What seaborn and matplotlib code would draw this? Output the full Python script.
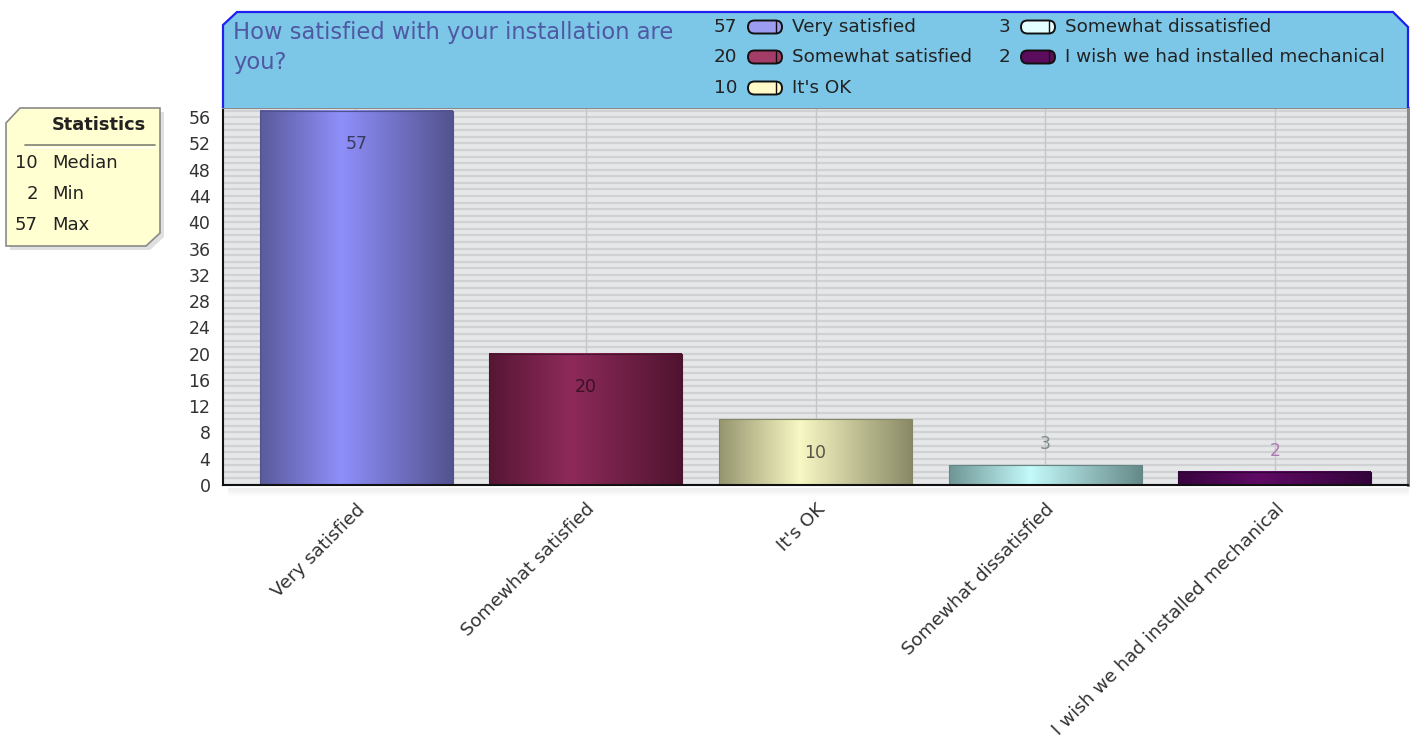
import numpy as np
import pandas as pd
import seaborn as sns
import matplotlib
matplotlib.use("Agg")
import matplotlib.pyplot as plt
from matplotlib.patches import Polygon, FancyBboxPatch
from matplotlib.colors import LinearSegmentedColormap, to_rgb

# ---------------- data ----------------
categories = ["Very satisfied", "Somewhat satisfied", "It's OK",
              "Somewhat dissatisfied", "I wish we had installed mechanical"]
values = [57, 20, 10, 3, 2]
title_text = "How satisfied with your installation are\nyou?"
y_ticks = list(range(0, 57, 4))
stat_names = ["Median", "Min", "Max"]

# ---------------- styles ----------------
edge_colors = ["#5a5a9c", "#561634", "#95956f", "#6f9595", "#380440"]
mid_colors = ["#8f8ffa", "#8e2a5a", "#f8f8c4", "#c4fafa", "#600a64"]
swatch_colors = ["#9c9cf2", "#a43c68", "#fffac8", "#e4ffff", "#5c0c5c"]
value_label_colors = ["#3a3a62", "#3a1224", "#55554a", "#7e8c8c", "#b07ab0"]

sns.set_theme(style="white")
plt.rcParams['font.family'] = ['DejaVu Sans']

W, H = 1410, 756
fig = plt.figure(figsize=(W / 100, H / 100), dpi=100)
fig.patch.set_facecolor("white")


def fx(x):
    return x / W


def fy(y):
    return 1 - y / H


ax = fig.add_axes([fx(223), fy(485), fx(1408) - fx(223), fy(108) - fy(485)])
df = pd.DataFrame({"category": categories, "value": values})
sns.barplot(data=df, x="category", y="value", hue="category",
            palette=mid_colors, legend=False, ax=ax, width=0.84,
            saturation=1, dodge=False)

ax.set_facecolor("#e5e7e9")
# horizontal stripes
for k in range(0, 58):
    ax.axhline(k, color="#d0d1d3", lw=1.6, zorder=0.3)
# vertical grid at categories
for i in range(len(categories)):
    ax.axvline(i, color="#c6c6c6", lw=1.0, zorder=0.4)

# gradient bars
grad = np.linspace(0, 1, 256)[None, :]
for patch, e, m in zip(ax.patches, edge_colors, mid_colors):
    x0 = patch.get_x()
    w = patch.get_width()
    h = patch.get_height()
    er = np.array(to_rgb(e))
    cmap = LinearSegmentedColormap.from_list(
        "g", [(0, er), (0.42, to_rgb(m)), (1, er * 0.92)])
    ax.imshow(grad, cmap=cmap, extent=[x0, x0 + w, 0, h], aspect="auto",
              zorder=2, interpolation="bicubic")
    patch.set_facecolor("none")
    patch.set_edgecolor(tuple(er * 0.9))
    patch.set_linewidth(0.8)
    patch.set_zorder(2.5)

# value labels
for i, (v, c) in enumerate(zip(values, value_label_colors)):
    if v >= 10:
        ax.annotate(str(v), (i, v), xytext=(0, -24), textcoords="offset points",
                    ha="center", va="center", fontsize=12.5, color=c, zorder=5)
    else:
        ax.annotate(str(v), (i, v), xytext=(0, 15), textcoords="offset points",
                    ha="center", va="center", fontsize=12.5, color=c, zorder=5)

ax.set_xlim(-0.58, 4.58)
ax.set_ylim(0, 57.4)
ax.set_yticks(y_ticks)
ax.set_yticklabels([str(t) for t in y_ticks])
ax.set_xticks(range(len(categories)))
ax.set_xticklabels(categories, rotation=45, ha="right", rotation_mode="anchor")
ax.set_xlabel("")
ax.set_ylabel("")
ax.tick_params(axis="both", direction="out", length=5, width=1.4,
               color="black", labelsize=12.5, labelcolor="#333333", pad=4)
ax.tick_params(axis="x", labelsize=13.2, pad=6)
for s in ["left", "bottom"]:
    ax.spines[s].set_color("#111111")
    ax.spines[s].set_linewidth(1.5)
ax.spines["right"].set_color("#8a8a8a")
ax.spines["right"].set_linewidth(2.2)
ax.spines["top"].set_color("#8a8a8a")
ax.spines["top"].set_linewidth(1.5)
for s in ax.spines.values():
    s.set_zorder(6)

# ---------------- overlay for decorations ----------------
ov = fig.add_axes([0, 0, 1, 1], zorder=10)
ov.set_xlim(0, W)
ov.set_ylim(H, 0)
ov.axis("off")
ov.patch.set_alpha(0)

# header
hdr = Polygon([(223, 108), (223, 25), (237, 12), (1393, 12), (1408, 27), (1408, 108)],
              closed=False, facecolor="#7cc7e8", edgecolor="#2020f0", lw=1.6)
ov.add_patch(hdr)
ov.text(233, 32, "How satisfied with your installation are", ha="left", va="center",
        fontsize=16.3, color="#4f58a2")
ov.text(233, 62, "you?", ha="left", va="center", fontsize=16.3, color="#4f58a2")

# legend in header
leg_cols = [(737, 748, 792), (1010, 1021, 1065)]
leg_rows = [27, 57, 88]
for idx, (cat, v, sc) in enumerate(zip(categories, values, swatch_colors)):
    col = idx // 3
    row = idx % 3
    nx, sx, lx = leg_cols[col]
    yc = leg_rows[row]
    ov.text(nx, yc, str(v), ha="right", va="center", fontsize=13.2, color="#222222")
    sw = FancyBboxPatch((sx, yc - 6.5), 34, 13,
                        boxstyle="round,pad=0,rounding_size=6.5",
                        facecolor=sc, edgecolor="#111111", lw=1.4)
    ov.add_patch(sw)
    ov.plot([sx + 28, sx + 28], [yc - 6, yc + 6], color="#111111", lw=1.0)
    ov.text(lx, yc, cat, ha="left", va="center", fontsize=13.2, color="#222222")

# shadow under plot area
for k in range(8):
    ov.plot([228, 1408], [488 + k, 488 + k], color="#000000", alpha=0.05 * (1 - k / 8), lw=1)

# statistics box
stat_vals = [int(np.median(values)), min(values), max(values)]
box_pts = [(6, 123), (20, 108), (160, 108), (160, 233), (146, 246), (6, 246)]
shadow = Polygon([(x + 4, y + 4) for x, y in box_pts], closed=True,
                 facecolor="#000000", alpha=0.12, edgecolor="none")
ov.add_patch(shadow)
box = Polygon(box_pts, closed=True, facecolor="#ffffd2", edgecolor="#8a8a8a", lw=1.2)
ov.add_patch(box)
ov.text(99, 125, "Statistics", ha="center", va="center", fontsize=12.8,
        fontweight="bold", color="#222222")
ov.plot([25, 155], [145, 145], color="#8a8a7a", lw=1.3)
ov.plot([25, 155], [146.5, 146.5], color="#ffffff", lw=1.0)
for (name, sv, yc) in zip(stat_names, stat_vals, [163, 194, 225]):
    ov.text(38, yc, str(sv), ha="right", va="center", fontsize=13, color="#222222")
    ov.text(52, yc, name, ha="left", va="center", fontsize=13, color="#222222")

fig.savefig("out.png", dpi=100)
